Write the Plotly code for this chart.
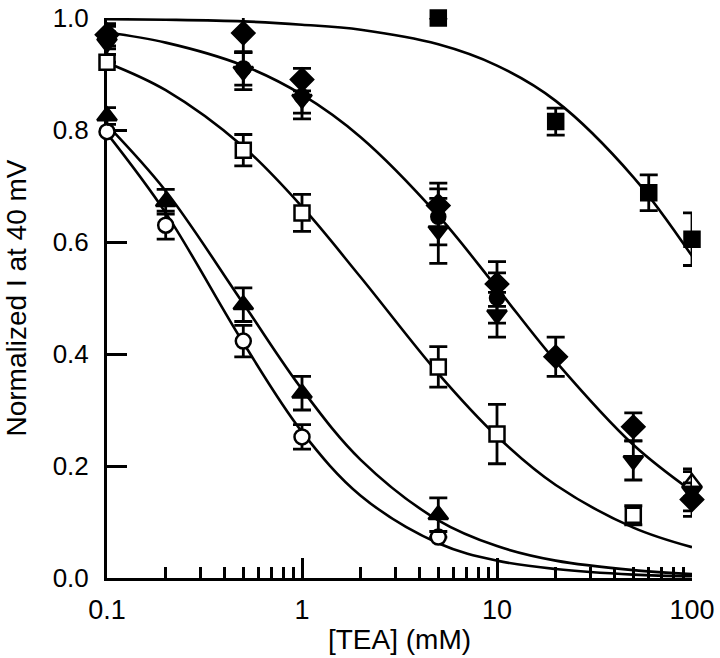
import plotly.graph_objects as go

# ---------------- data ----------------
# filled squares
sqf_x = [5, 20, 60, 100]
sqf_y = [1.0, 0.815, 0.688, 0.605]
sqf_e = [0.0, 0.024, 0.032, 0.047]

# open squares
sqo_x = [0.1, 0.5, 1, 5, 10, 50]
sqo_y = [0.921, 0.764, 0.652, 0.377, 0.257, 0.112]
sqo_e = [0.0, 0.028, 0.033, 0.036, 0.053, 0.017]

# filled triangles (up)
tri_x = [0.1, 0.2, 0.5, 1, 5]
tri_y = [0.825, 0.672, 0.488, 0.330, 0.113]
tri_e = [0.015, 0.022, 0.030, 0.030, 0.030]

# open circles
cio_x = [0.1, 0.2, 0.5, 1, 5]
cio_y = [0.797, 0.630, 0.423, 0.252, 0.073]
cio_e = [0.0, 0.025, 0.028, 0.022, 0.0]

# filled diamonds
dia_x = [0.1, 0.5, 1, 5, 10, 20, 50, 100]
dia_y = [0.970, 0.973, 0.890, 0.665, 0.525, 0.395, 0.270, 0.140]
dia_e = [0.020, 0.035, 0.020, 0.040, 0.040, 0.035, 0.025, 0.030]

# filled circles
cif_x = [0.1, 0.5, 1, 5, 10]
cif_y = [0.965, 0.910, 0.860, 0.645, 0.500]
cif_e = [0.020, 0.030, 0.030, 0.050, 0.045]

# filled inverted triangles
tdn_x = [0.1, 0.5, 1, 5, 10, 50, 100]
tdn_y = [0.955, 0.905, 0.855, 0.620, 0.470, 0.210, 0.155]
tdn_e = [0.020, 0.033, 0.035, 0.058, 0.040, 0.035, 0.035]

# open triangle
tro_x = [100]
tro_y = [0.170]
tro_e = [0.025]

# fitted curves
curve_x = [0.1, 0.2, 0.5, 1, 2, 5, 10, 20, 50, 100]
fit_sqf = [0.998, 0.997, 0.994, 0.988, 0.979, 0.953, 0.915, 0.852, 0.716, 0.575]
fit_mid = [0.974, 0.956, 0.915, 0.863, 0.787, 0.647, 0.518, 0.387, 0.238, 0.155]
fit_sqo = [0.920, 0.871, 0.770, 0.663, 0.537, 0.365, 0.253, 0.166, 0.090, 0.055]
fit_tri = [0.809, 0.691, 0.490, 0.337, 0.211, 0.103, 0.057, 0.031, 0.014, 0.007]
fit_cio = [0.794, 0.652, 0.420, 0.261, 0.147, 0.062, 0.031, 0.016, 0.006, 0.003]

x_ticks = [0.1, 1, 10, 100]
x_ticktext = ["0.1", "1", "10", "100"]
y_ticks = [0.0, 0.2, 0.4, 0.6, 0.8, 1.0]
y_ticktext = ["0.0", "0.2", "0.4", "0.6", "0.8", "1.0"]

FONT = "Liberation Sans, Arial, sans-serif"

fig = go.Figure()

for fy in [fit_sqf, fit_mid, fit_sqo, fit_tri, fit_cio]:
    fig.add_trace(go.Scatter(x=curve_x, y=fy, mode="lines",
                             line=dict(color="black", width=2.6, shape="spline"),
                             hoverinfo="skip"))

def pts(x, y, e, symbol, size, fill):
    fig.add_trace(go.Scatter(
        x=x, y=y, mode="markers", cliponaxis=False,
        marker=dict(symbol=symbol, size=size, color=fill,
                    line=dict(color="black", width=2.5)),
        error_y=dict(type="data", array=e, visible=True, color="black",
                     thickness=2.8, width=9)))

pts(sqo_x, sqo_y, sqo_e, "square", 15, "white")
pts(cio_x, cio_y, cio_e, "circle", 15, "white")
pts(tri_x, tri_y, tri_e, "triangle-up", 17, "black")
pts(tro_x, tro_y, tro_e, "triangle-up", 17, "white")
pts(tdn_x, tdn_y, tdn_e, "triangle-down", 17, "black")
pts(cif_x, cif_y, cif_e, "circle", 14, "black")
pts(dia_x, dia_y, dia_e, "diamond", 17, "black")
pts(sqf_x, sqf_y, sqf_e, "square", 15, "black")

fig.update_layout(
    width=720, height=658,
    margin=dict(l=107, r=28, t=18, b=80),
    plot_bgcolor="white", paper_bgcolor="white",
    showlegend=False,
    font=dict(family=FONT, color="black", size=26),
)
fig.update_xaxes(
    type="log", range=[-1, 2], automargin=False,
    tickvals=x_ticks, ticktext=x_ticktext,
    ticks="inside", ticklen=20, tickwidth=3, tickcolor="black",
    minor=dict(ticks="inside", ticklen=11, tickwidth=2.5, tickcolor="black",
               dtick="D1", showgrid=False),
    showline=True, linewidth=3, linecolor="black",
    showgrid=False, zeroline=False, layer="below traces",
    tickfont=dict(size=27, family=FONT),
    ticklabelstandoff=6, ticklabeloverflow="allow",
    title=dict(text="[TEA] (mM)", font=dict(size=28, family=FONT), standoff=5),
)
fig.update_yaxes(
    range=[0, 1.0], automargin=False,
    tickvals=y_ticks, ticktext=y_ticktext,
    ticks="inside", ticklen=20, tickwidth=3, tickcolor="black",
    showline=True, linewidth=3, linecolor="black",
    showgrid=False, zeroline=False, layer="below traces",
    tickfont=dict(size=26, family=FONT),
    ticklabelstandoff=10, ticklabeloverflow="allow",
    title=dict(text="Normalized I at 40 mV", font=dict(size=28, family=FONT), standoff=18),
)

fig.write_html("out.html",
               config={"displayModeBar": False},
               post_script="document.body.style.margin='0px';document.body.style.overflow='hidden';")
